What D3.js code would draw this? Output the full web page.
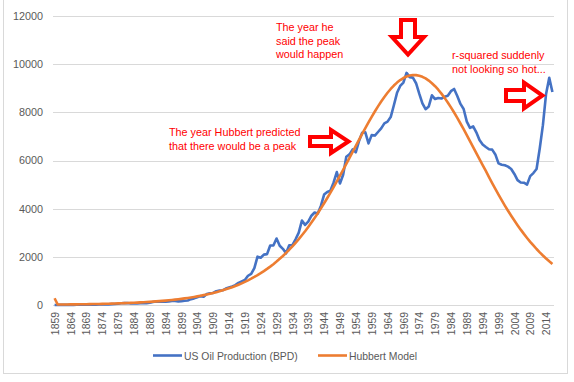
<!DOCTYPE html>
<html><head><meta charset="utf-8">
<script src="https://cdn.jsdelivr.net/npm/d3@7"></script>
<style>body{margin:0;background:#fff}svg{display:block}</style>
</head><body><svg id="c" width="574" height="382"></svg>
<script>
const startYear = 1859, endYear = 2016;
const years = d3.range(startYear, endYear + 1);
const tickLabels = ["1859","1864","1869","1874","1879","1884","1889","1894","1899","1904","1909","1914","1919","1924","1929","1934","1939","1944","1949","1954","1959","1964","1969","1974","1979","1984","1989","1994","1999","2004","2009","2014"];
const yTicks = [0,2000,4000,6000,8000,10000,12000];
const seriesNames = ["US Oil Production (BPD)", "Hubbert Model"];
const usProduction = [0,1,6,8,7,6,7,10,9,10,12,14,14,17,27,30,24,25,37,42,55,72,76,82,64,66,60,77,77,75,96,125,148,139,132,135,145,166,166,151,156,174,190,243,275,320,368,346,455,489,501,574,603,611,683,729,770,824,919,979,1037,1214,1294,1530,2007,1962,2092,2113,2469,2473,2760,2460,2332,2145,2483,2482,2730,3007,3505,3327,3466,3707,3842,3799,4125,4584,4695,4751,5088,5520,5046,5407,6158,6256,6458,6342,6807,7151,7170,6710,7054,7035,7183,7332,7542,7614,7804,8295,8810,9096,9238,9637,9463,9441,9208,8774,8375,8132,8245,8707,8552,8597,8572,8649,8688,8879,8971,8680,8349,8140,7613,7355,7417,7171,6847,6662,6560,6465,6452,6252,5881,5822,5801,5744,5649,5441,5184,5086,5077,5000,5353,5478,5646,6497,7466,8765,9431,8847];
const hubbert = [280,18,20,21,23,24,26,28,30,32,34,36,39,41,44,48,51,54,58,62,67,71,76,82,87,94,100,107,115,123,131,140,150,160,171,183,196,209,224,240,256,274,293,313,335,358,383,409,437,467,499,533,569,609,650,694,741,791,844,900,960,1024,1092,1164,1240,1321,1407,1498,1594,1696,1803,1917,2036,2163,2295,2434,2581,2734,2895,3062,3238,3421,3612,3809,4014,4225,4443,4666,4897,5132,5371,5614,5861,6110,6359,6609,6858,7104,7346,7583,7814,8036,8248,8449,8638,8812,8970,9112,9235,9340,9424,9486,9528,9548,9544,9520,9474,9407,9319,9210,9084,8938,8777,8600,8409,8206,7992,7768,7536,7298,7055,6808,6559,6309,6060,5812,5565,5312,5064,4820,4582,4353,4130,3915,3706,3506,3314,3129,2953,2785,2624,2472,2325,2188,2057,1932,1814,1703];
const notes = [
  {lines:["The year Hubbert predicted","that there would be a peak"], x:169, y:136, dy:14},
  {lines:["The year he","said the peak","would happen"], x:276, y:31, dy:13.7},
  {lines:["r-squared suddenly","not looking so hot..."], x:452, y:58.5, dy:14}
];
const arrows = [
  [[310,137],[331,137],[331,130],[348.5,141.5],[331,153],[331,146],[310,146]],
  [[401,20],[415,20],[415,37],[424,37],[408,54.5],[392,37],[401,37]],
  [[506,90],[524,90],[524,82.5],[542.5,95.5],[524,108.5],[524,101],[506,101]]
];

const svg = d3.select("#c");
const font = "'Liberation Sans', Arial, sans-serif";
const L = 53, R = 554, T = 16, B = 305;
const x = d3.scalePoint().domain(years).range([L, R]).padding(0.5);
const y = d3.scaleLinear().domain([0, 12000]).range([B, T]);

svg.append("rect").attr("x",3.5).attr("y",-1).attr("width",564).attr("height",374.5)
  .attr("fill","#fff").attr("stroke","#d9d9d9");

// gridlines
svg.append("g").selectAll("line").data(yTicks).join("line")
  .attr("x1",L).attr("x2",R).attr("y1",d=>Math.round(y(d))+0.5).attr("y2",d=>Math.round(y(d))+0.5)
  .attr("stroke","#d9d9d9").attr("stroke-width",1);

// y axis labels
const yAxis = d3.axisLeft(y).tickValues(yTicks).tickSize(0).tickPadding(0).tickFormat(d3.format("d"));
const gy = svg.append("g").attr("transform",`translate(${L-10},0)`).call(yAxis);
gy.select(".domain").remove();
gy.selectAll("text").attr("font-family",font).attr("font-size","10.8px").attr("fill","#595959");

// x axis labels
const xAxis = d3.axisBottom(x).tickValues(tickLabels.map(Number)).tickSize(0).tickFormat((d,i)=>tickLabels[i]);
const gx = svg.append("g").attr("transform",`translate(0,${B})`).call(xAxis);
gx.select(".domain").remove();
gx.selectAll("text").attr("font-family",font).attr("font-size","10.4px").attr("fill","#595959")
  .attr("text-anchor","end").attr("transform","rotate(-90)").attr("x",-7).attr("y",0).attr("dy","0.35em");

// lines
const line = vals => d3.line().x((d,i)=>x(years[i])).y(d=>y(d))(vals);
svg.append("path").attr("d",line(usProduction)).attr("fill","none").attr("stroke","#4472C4").attr("stroke-width",2.6).attr("stroke-linejoin","round");
svg.append("path").attr("d",line(hubbert)).attr("fill","none").attr("stroke","#ED7D31").attr("stroke-width",2.6).attr("stroke-linejoin","round");

// annotations
notes.forEach(n=>{
  const t = svg.append("text").attr("font-family",font).attr("font-size","10.8px").attr("fill","#FF0000");
  n.lines.forEach((s,i)=>t.append("tspan").attr("x",n.x).attr("y",n.y+i*n.dy).text(s));
});
arrows.forEach(a=>{
  svg.append("polygon").attr("points",a.map(p=>p.join(",")).join(" "))
    .attr("fill","#fff").attr("stroke","#FF0000").attr("stroke-width",4).attr("stroke-linejoin","miter");
});

// legend
const legend = [{name:seriesNames[0],color:"#4472C4",x:153},{name:seriesNames[1],color:"#ED7D31",x:318}];
legend.forEach(l=>{
  svg.append("line").attr("x1",l.x).attr("x2",l.x+29).attr("y1",355.5).attr("y2",355.5).attr("stroke",l.color).attr("stroke-width",2.6);
  svg.append("text").attr("x",l.x+31).attr("y",359.5).attr("font-family",font).attr("font-size","10.4px").attr("fill","#595959").text(l.name);
});
</script></body></html>
